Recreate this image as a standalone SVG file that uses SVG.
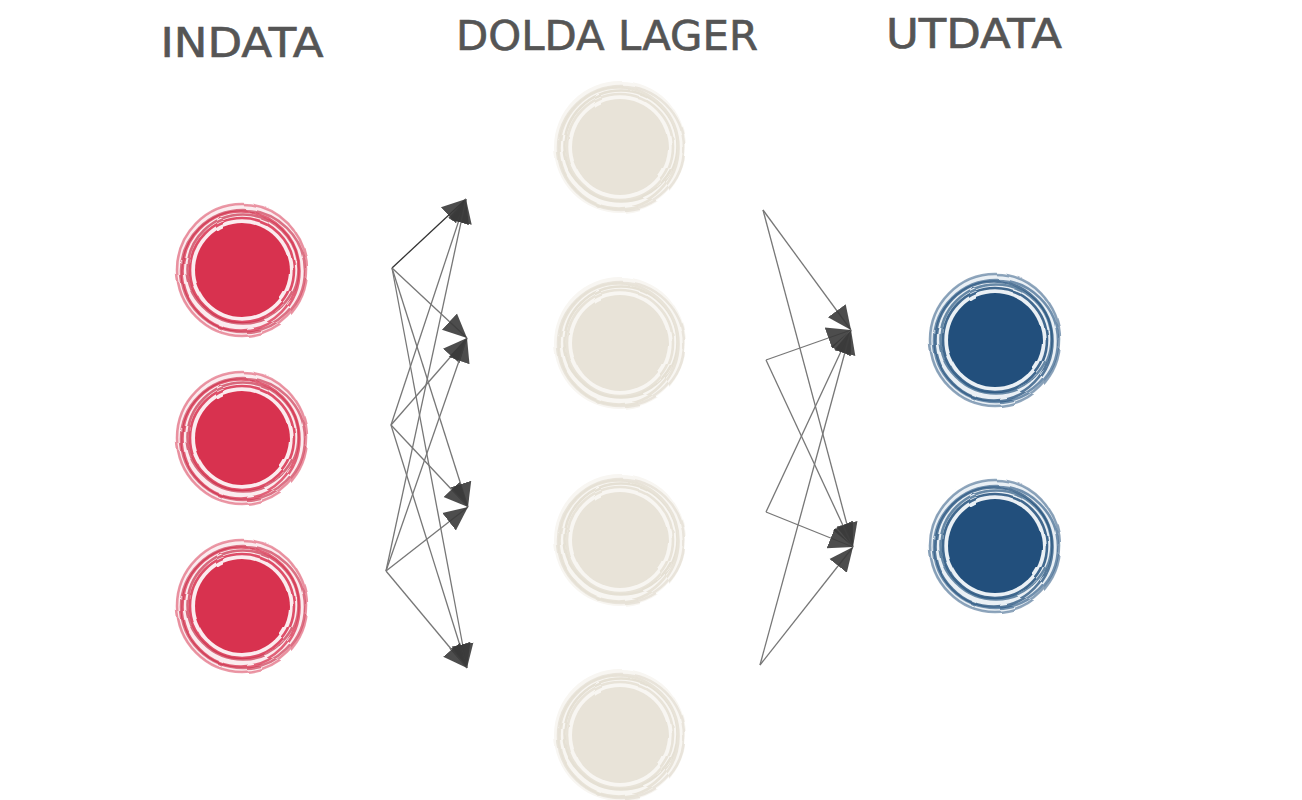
<svg xmlns="http://www.w3.org/2000/svg" xmlns:xlink="http://www.w3.org/1999/xlink" width="1302" height="800" viewBox="0 0 1302 800">
<style>
.title{font-family:"DejaVu Sans","Liberation Sans",sans-serif;font-size:40px;fill:#555;stroke:#555;stroke-width:0.6px}
.ln{fill:none;stroke:#777;stroke-width:1.3}
.dk{stroke:#333}
.ring{fill:none;stroke-width:2.6}
</style>
<defs>
<filter id="rough" x="-20%" y="-20%" width="140%" height="140%">
<feTurbulence type="fractalNoise" baseFrequency="0.035" numOctaves="2" seed="5"/>
<feDisplacementMap in="SourceGraphic" scale="3"/>
</filter>
<marker id="ah" markerUnits="userSpaceOnUse" markerWidth="30" markerHeight="30" refX="24" refY="11" orient="auto" viewBox="0 0 30 22">
<path d="M0,0 L24,11 L0,22 Z" fill="#3a3a3a" opacity="0.9"/>
</marker>
<g id="dotRed" filter="url(#rough)">
<circle r="66" fill="#fbecef"/>
<circle r="47" fill="#d8334f"/>
<circle r="52" class="ring" stroke="#d8334f" stroke-opacity="0.85"/>
<ellipse cx="1" cy="-1" rx="55.5" ry="54.5" class="ring" stroke="#c9304a" stroke-opacity="0.7"/>
<ellipse cx="-1" cy="1" rx="58.5" ry="59.5" class="ring" stroke="#d8334f" stroke-opacity="0.75"/>
<ellipse cx="1" cy="1" rx="62" ry="61" class="ring" stroke="#c9304a" stroke-opacity="0.65"/>
<ellipse cx="0" cy="0" rx="65" ry="66" class="ring" stroke="#d8334f" stroke-opacity="0.5"/>
</g>
<g id="dotBlue" filter="url(#rough)">
<circle r="66" fill="#eaf0f5"/>
<circle r="47" fill="#23507b"/>
<circle r="52" class="ring" stroke="#23507b" stroke-opacity="0.85"/>
<ellipse cx="1" cy="-1" rx="55.5" ry="54.5" class="ring" stroke="#2e5b85" stroke-opacity="0.7"/>
<ellipse cx="-1" cy="1" rx="58.5" ry="59.5" class="ring" stroke="#23507b" stroke-opacity="0.75"/>
<ellipse cx="1" cy="1" rx="62" ry="61" class="ring" stroke="#2e5b85" stroke-opacity="0.65"/>
<ellipse cx="0" cy="0" rx="65" ry="66" class="ring" stroke="#23507b" stroke-opacity="0.5"/>
</g>
<g id="dotBeige" filter="url(#rough)">
<circle r="66" fill="#f8f6f2"/>
<circle r="48" fill="#e8e3d8"/>
<circle r="53" class="ring" stroke="#e8e3d8"/>
<ellipse cx="1" cy="-1" rx="56.5" ry="55.5" class="ring" stroke="#e5e0d4"/>
<ellipse cx="-1" cy="1" rx="59.5" ry="60.5" class="ring" stroke="#e8e3d8"/>
<ellipse cx="1" cy="1" rx="63" ry="62" class="ring" stroke="#e5e0d4" stroke-opacity="0.8"/>
</g>
</defs>
<rect width="1302" height="800" fill="#ffffff"/>

<g id="titles">
<text class="title" x="242" y="57" text-anchor="middle" textLength="163" lengthAdjust="spacingAndGlyphs">INDATA</text>
<text class="title" x="607" y="50" text-anchor="middle" textLength="302" lengthAdjust="spacingAndGlyphs">DOLDA LAGER</text>
<text class="title" x="974" y="48" text-anchor="middle" textLength="176" lengthAdjust="spacingAndGlyphs">UTDATA</text>
</g>

<g id="input1"><use xlink:href="#dotRed" x="242" y="270"/></g>
<g id="input2"><use xlink:href="#dotRed" x="242" y="438"/></g>
<g id="input3"><use xlink:href="#dotRed" x="242" y="606"/></g>

<g id="hidden1"><use xlink:href="#dotBeige" x="620" y="147"/></g>
<g id="hidden2"><use xlink:href="#dotBeige" x="620" y="343"/></g>
<g id="hidden3"><use xlink:href="#dotBeige" x="620" y="540"/></g>
<g id="hidden4"><use xlink:href="#dotBeige" x="620" y="735"/></g>

<g id="output1"><use xlink:href="#dotBlue" x="995" y="340"/></g>
<g id="output2"><use xlink:href="#dotBlue" x="995" y="546"/></g>

<g id="connectors">
<line class="ln dk" x1="392" y1="268" x2="466" y2="199" marker-end="url(#ah)"/>
<line class="ln" x1="392" y1="268" x2="467" y2="338" marker-end="url(#ah)"/>
<line class="ln" x1="392" y1="268" x2="468" y2="507" marker-end="url(#ah)"/>
<line class="ln" x1="392" y1="268" x2="467" y2="668" marker-end="url(#ah)"/>

<line class="ln" x1="391" y1="425" x2="466" y2="199" marker-end="url(#ah)"/>
<line class="ln" x1="391" y1="425" x2="467" y2="338" marker-end="url(#ah)"/>
<line class="ln" x1="391" y1="425" x2="468" y2="507" marker-end="url(#ah)"/>
<line class="ln" x1="391" y1="425" x2="467" y2="668" marker-end="url(#ah)"/>

<line class="ln" x1="386" y1="571" x2="466" y2="199" marker-end="url(#ah)"/>
<line class="ln" x1="386" y1="571" x2="467" y2="338" marker-end="url(#ah)"/>
<line class="ln" x1="386" y1="571" x2="468" y2="507" marker-end="url(#ah)"/>
<line class="ln" x1="386" y1="571" x2="467" y2="668" marker-end="url(#ah)"/>

<line class="ln" x1="763" y1="210" x2="851" y2="330" marker-end="url(#ah)"/>
<line class="ln" x1="763" y1="210" x2="853" y2="547" marker-end="url(#ah)"/>
<line class="ln" x1="766" y1="360" x2="851" y2="330" marker-end="url(#ah)"/>
<line class="ln" x1="766" y1="360" x2="853" y2="547" marker-end="url(#ah)"/>
<line class="ln" x1="766" y1="512" x2="851" y2="330" marker-end="url(#ah)"/>
<line class="ln" x1="766" y1="512" x2="853" y2="547" marker-end="url(#ah)"/>
<line class="ln" x1="760" y1="665" x2="851" y2="330" marker-end="url(#ah)"/>
<line class="ln" x1="760" y1="665" x2="853" y2="547" marker-end="url(#ah)"/>
</g>
</svg>
